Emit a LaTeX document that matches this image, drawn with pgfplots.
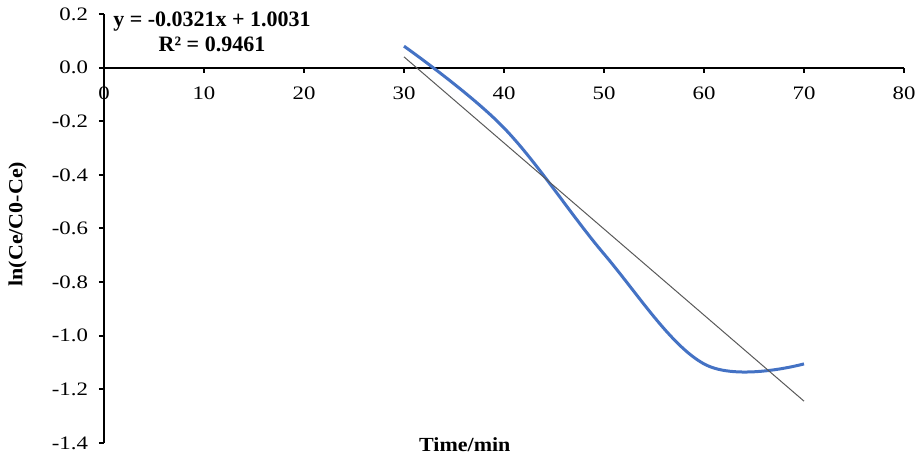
\documentclass[border=0pt]{standalone}
\usepackage{graphicx}
\usepackage{pgfplots}
\pgfplotsset{compat=1.18}
\usepackage{fontspec}
\setmainfont{Liberation Serif}
\definecolor{exblue}{HTML}{4472C4}
\definecolor{trendgray}{HTML}{595959}
\begin{document}
\begin{tikzpicture}
\begin{axis}[
  name=ax,
  scale only axis,
  width=400pt, height=214.5pt,
  xmin=0, xmax=80, ymin=-1.4, ymax=0.2,
  axis x line=middle, axis y line=left,
  axis line style={-, line width=1pt, black},
  xtick={0,10,...,80},
  ytick={-1.4,-1.2,-1.0,-0.8,-0.6,-0.4,-0.2,0,0.2},
  tick align=outside,
  major tick length=2.5pt,
  tick style={line width=1pt, black},
  hide obscured x ticks=false,
  hide obscured y ticks=false,
  /pgf/number format/assume math mode=true,
  yticklabel={\scalebox{1.2}[1]{\pgfmathprintnumber[fixed,fixed zerofill,precision=1]{\tick}}},
  xticklabel={\scalebox{1.2}[1]{\pgfmathprintnumber{\tick}}},
  yticklabel style={font=\fontsize{9.5}{10}\selectfont, xshift=-2pt},
  xticklabel style={font=\fontsize{9.5}{10}\selectfont, yshift=-3.5pt},
  xlabel={\scalebox{1.1}[1]{\textbf{Time/min}}},
  xlabel style={at={(axis description cs:0.451,-0.005)}, anchor=center, font=\fontsize{10}{11}\selectfont},
  ylabel={\scalebox{1.1}[1]{\textbf{ln(Ce/C0-Ce)}}},
  ylabel style={at={(axis description cs:-0.108,0.51)}, anchor=center, rotate=0, font=\fontsize{10}{11}\selectfont},
  clip=false,
]
\addplot[exblue, line width=1.5pt, smooth, tension=0.6] coordinates {
  (30,0.08) (40,-0.225) (50,-0.695) (60,-1.105) (70,-1.105)
};
\addplot[trendgray, line width=0.5pt] coordinates {
  (30,0.0401) (70,-1.2439)
};
\node[align=center, font=\fontsize{11}{12.5}\selectfont\bfseries] at (axis cs:10.8,0.135) {y = -0.0321x + 1.0031\\R² = 0.9461};
\end{axis}
\pgfresetboundingbox
\path ([shift={(-52pt,-8pt)}]ax.south west) rectangle ([shift={(9pt,7pt)}]ax.north east);
\end{tikzpicture}
\end{document}
